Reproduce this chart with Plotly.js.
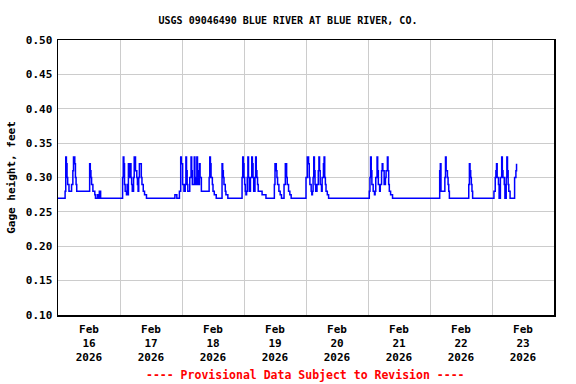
<!DOCTYPE html>
<html>
<head>
<meta charset="utf-8">
<script src="https://cdn.plot.ly/plotly-3.0.1.min.js"></script>
<style>html,body{margin:0;padding:0;background:#fff;}#chart{width:576px;height:384px;}</style>
</head>
<body>
<div id="chart"></div>
<script>
// Hours after 2026-02-16 00:00 at which the gage reading changes (step series)
const hoursFromStart = [
  0, 2.75, 3.0, 3.25, 3.5, 3.75, 4.25, 5.25, 5.75, 6.0, 6.5, 6.75, 7.0, 7.25,
  12.25, 12.5, 12.75, 13.0, 13.5, 14.25, 14.5, 15.25, 15.5, 16.0, 16.5,
  25.0, 25.25, 25.5, 25.75, 26.0, 26.5, 26.75, 27.0, 27.25, 27.75, 28.0, 28.25, 28.5, 28.75,
  29.25, 29.5, 30.0, 30.5, 30.75, 31.0, 31.25, 31.5, 32.25, 32.5, 33.0, 33.5, 34.25,
  45.25, 46.0, 47.0, 47.5, 47.75, 48.25, 48.75, 49.25, 49.5, 49.75, 50.0, 50.25,
  51.0, 51.5, 51.75, 52.0, 52.75, 53.0, 53.25, 53.75, 54.0, 54.25, 54.75, 55.0, 55.5,
  58.5, 58.75, 59.0, 59.25, 59.75, 60.0, 60.5, 61.25,
  63.5, 63.75, 64.0, 64.25, 64.75, 65.0, 65.75,
  71.25, 71.5, 71.75, 72.0, 72.25, 72.5, 72.75, 73.0, 73.25, 73.5, 73.75, 74.0, 74.5,
  75.0, 75.25, 75.5, 75.75, 76.25, 76.5, 76.75, 77.0, 77.25, 77.5, 79.0, 80.5,
  83.75, 84.0, 84.5, 84.75, 85.0, 85.5, 86.0, 86.5,
  87.5, 88.0, 88.5, 88.75, 89.25, 89.75, 90.25,
  96.0, 96.5, 97.0, 97.25, 97.5, 98.0, 98.25, 98.5, 98.75, 99.0, 99.25, 99.5, 99.75,
  100.25, 100.75, 101.0, 101.25, 101.5, 102.0, 102.25, 102.75, 103.0, 103.25, 103.5, 103.75, 104.25, 104.75,
  120.5, 120.75, 121.0, 121.25, 121.5, 122.0, 122.5, 122.75, 123.0, 123.5, 123.75, 124.0, 124.5,
  124.75, 125.25, 125.5, 125.75, 126.25, 126.75, 127.0, 127.5, 127.75, 128.0, 128.25, 128.75, 129.5,
  147.75, 148.0, 148.25, 149.75, 150.0, 150.25, 150.75, 151.0, 151.25, 151.5,
  159.0, 159.25, 159.5, 159.75, 160.0, 160.25, 160.5,
  168.75, 169.25, 169.5, 169.75, 170.0, 170.5, 170.75, 171.25, 171.75, 172.0, 172.25, 172.75, 173.0,
  173.5, 173.75, 174.0, 174.25, 174.5, 175.0, 176.75, 177.25, 177.5
];
const gageHeight = [
  0.27, 0.28, 0.33, 0.32, 0.30, 0.29, 0.28, 0.29, 0.31, 0.33, 0.32, 0.30, 0.29, 0.28,
  0.32, 0.31, 0.30, 0.29, 0.28, 0.275, 0.27, 0.275, 0.27, 0.28, 0.27,
  0.30, 0.33, 0.32, 0.29, 0.28, 0.275, 0.29, 0.275, 0.32, 0.30, 0.32, 0.30, 0.29, 0.28,
  0.30, 0.33, 0.31, 0.30, 0.29, 0.28, 0.30, 0.32, 0.30, 0.29, 0.28, 0.275, 0.27,
  0.275, 0.27, 0.28, 0.33, 0.32, 0.29, 0.28, 0.29, 0.33, 0.31, 0.29, 0.28,
  0.30, 0.33, 0.31, 0.29, 0.33, 0.30, 0.29, 0.33, 0.31, 0.29, 0.32, 0.30, 0.28,
  0.30, 0.33, 0.32, 0.30, 0.29, 0.28, 0.275, 0.27,
  0.32, 0.31, 0.30, 0.29, 0.28, 0.275, 0.27,
  0.30, 0.33, 0.32, 0.30, 0.29, 0.28, 0.275, 0.28, 0.30, 0.33, 0.30, 0.28, 0.30,
  0.33, 0.32, 0.30, 0.28, 0.30, 0.33, 0.31, 0.30, 0.29, 0.28, 0.275, 0.27,
  0.29, 0.32, 0.31, 0.30, 0.29, 0.28, 0.275, 0.27,
  0.29, 0.32, 0.30, 0.29, 0.28, 0.275, 0.27,
  0.30, 0.33, 0.32, 0.30, 0.29, 0.28, 0.275, 0.28, 0.30, 0.33, 0.31, 0.29, 0.28,
  0.29, 0.31, 0.33, 0.31, 0.29, 0.28, 0.30, 0.32, 0.33, 0.30, 0.29, 0.28, 0.275, 0.27,
  0.28, 0.30, 0.33, 0.31, 0.29, 0.28, 0.275, 0.28, 0.30, 0.33, 0.31, 0.29, 0.28,
  0.29, 0.31, 0.32, 0.31, 0.29, 0.30, 0.31, 0.33, 0.31, 0.29, 0.28, 0.275, 0.27,
  0.31, 0.32, 0.28, 0.30, 0.33, 0.31, 0.30, 0.29, 0.28, 0.27,
  0.29, 0.32, 0.31, 0.30, 0.29, 0.28, 0.27,
  0.28, 0.30, 0.31, 0.32, 0.30, 0.29, 0.27, 0.30, 0.33, 0.31, 0.30, 0.29, 0.27,
  0.30, 0.33, 0.31, 0.29, 0.28, 0.27, 0.30, 0.31, 0.32
];
const startDate = Date.UTC(2026, 1, 16);
const dayNumbers = ['16', '17', '18', '19', '20', '21', '22', '23'];
const monthLabel = 'Feb';
const yearLabel = '2026';
const titleText = 'USGS 09046490 BLUE RIVER AT BLUE RIVER, CO.';
const yTitle = 'Gage height, feet';
const footnote = '---- Provisional Data Subject to Revision ----';

function fmt(ms) { return new Date(ms).toISOString().replace('T', ' ').slice(0, 19); }
const times = hoursFromStart.map(h => fmt(startDate + h * 3600000));
const tickVals = dayNumbers.map((d, i) => fmt(startDate + (i + 0.5) * 86400000));
const tickText = dayNumbers.map(d => monthLabel + '<br>' + d + '<br>' + yearLabel);
const gridVals = dayNumbers.slice(1).map((d, i) => fmt(startDate + (i + 1) * 86400000));

const fam = 'DejaVu Sans Mono, Liberation Mono, monospace';
const font = {family: fam, size: 11, color: '#000', weight: 'bold'};

Plotly.newPlot('chart', [{
  x: times, y: gageHeight, type: 'scatter', mode: 'lines',
  line: {shape: 'hv', color: '#0000ff', width: 1.5}, hoverinfo: 'skip'
}], {
  width: 576, height: 384,
  margin: {l: 58, r: 22, t: 40, b: 69},
  paper_bgcolor: '#fff', plot_bgcolor: '#fff',
  font: font, showlegend: false,
  title: {text: titleText, font: {family: fam, size: 10, color: '#000', weight: 'bold'},
          xref: 'container', x: 0.5, xanchor: 'center',
          yref: 'container', y: 1 - 20 / 384, yanchor: 'middle'},
  xaxis: {
    type: 'date', range: [fmt(startDate), fmt(startDate + 8 * 86400000)],
    tickmode: 'array', tickvals: tickVals, ticktext: tickText,
    showgrid: false, ticks: '', tickfont: font, ticklabelstandoff: 3,
    minor: {tickmode: 'array', tickvals: gridVals, showgrid: true, gridcolor: '#cccccc', gridwidth: 1, ticks: ''},
    showline: true, mirror: true, linecolor: '#000', linewidth: 1.5, zeroline: false, fixedrange: true
  },
  yaxis: {
    range: [0.1, 0.5], tickmode: 'linear', tick0: 0.1, dtick: 0.05, tickformat: '.2f',
    showgrid: true, gridcolor: '#cccccc', gridwidth: 1, ticks: '', tickfont: font, ticklabelstandoff: 2,
    showline: true, mirror: true, linecolor: '#000', linewidth: 1.5, zeroline: false,
    title: {text: yTitle, font: font, standoff: 8}, fixedrange: true
  },
  annotations: [{
    text: footnote, xref: 'paper', yref: 'paper', x: (305 - 58) / 496, y: -(375 - 315) / 275,
    xanchor: 'center', yanchor: 'middle', showarrow: false,
    font: {family: fam, size: 11.5, color: '#ff0000', weight: 'bold'}
  }]
}, {staticPlot: true});
</script>
</body>
</html>
